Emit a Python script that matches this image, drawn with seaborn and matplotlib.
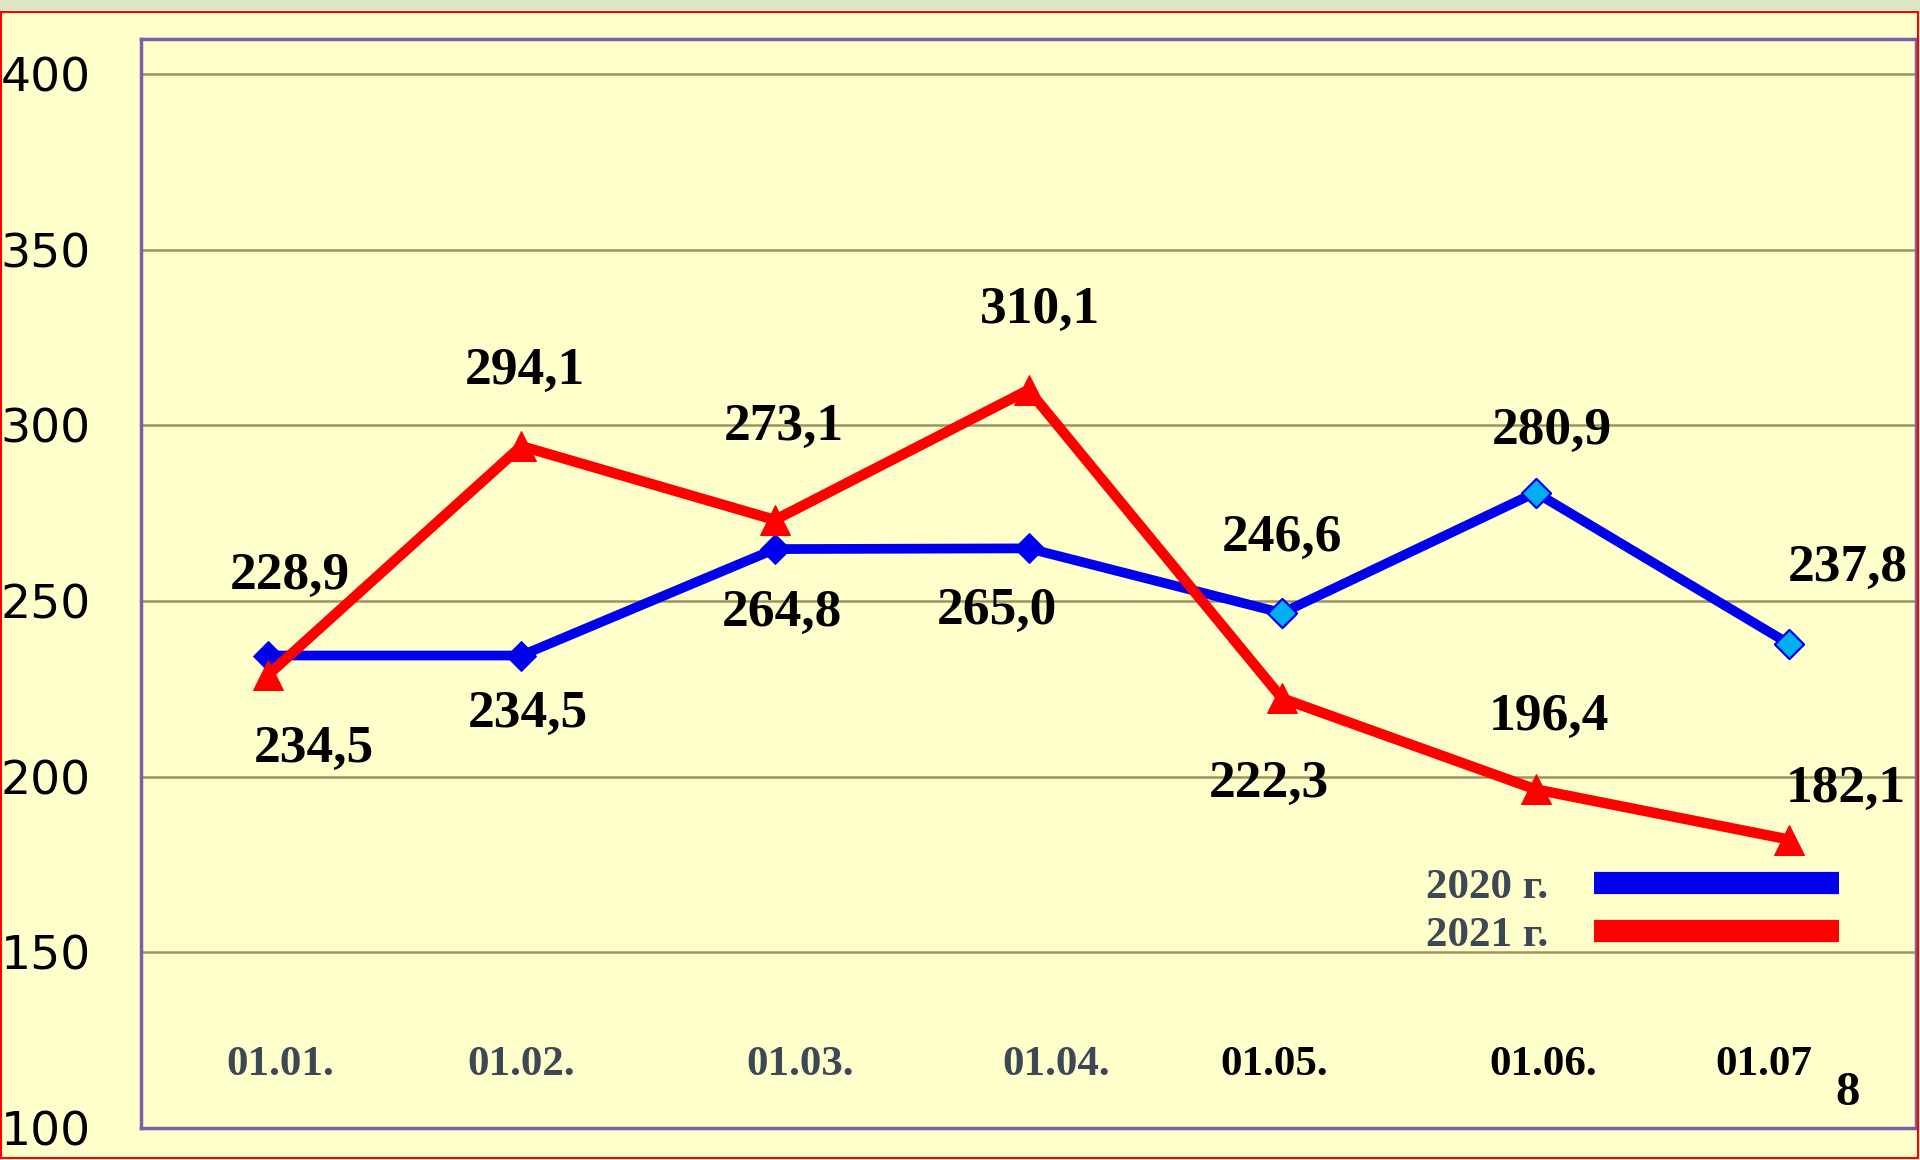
import numpy as np
import pandas as pd
import matplotlib
matplotlib.use("Agg")
import matplotlib.pyplot as plt
import seaborn as sns
from matplotlib.lines import Line2D
from matplotlib.patches import Rectangle

# Data
dates = ["01.01.", "01.02.", "01.03.", "01.04.", "01.05.", "01.06.", "01.07"]
vals_2020 = [234.5, 234.5, 264.8, 265.0, 246.6, 280.9, 237.8]
vals_2021 = [228.9, 294.1, 273.1, 310.1, 222.3, 196.4, 182.1]
y_ticks = [100, 150, 200, 250, 300, 350, 400]

# label offsets (pixels, measured on reference)
px = 1.2245
off_2020 = [(38, -76), (5, -48), (6, -52), (-26, -51), (0, 61), (13, 50), (48, 62)]
off_2021 = [(18, 81), (3, 61), (7, 76), (9, 65), (-11, -70), (11, 59), (46, 41)]
date_shift = [0.05, 0.0, 0.1, 0.11, -0.03, 0.03, -0.1]
date_colors = ["#3d4756"] * 4 + ["#000000"] * 3

BG = "#ffffcc"
sns.set_style("white")
plt.rcParams["font.family"] = ["DejaVu Sans"]

fig = plt.figure(figsize=(19.2, 11.6), dpi=100, facecolor=BG)
ax = fig.add_axes([141 / 1920, 32 / 1160, 1775 / 1920, 1089 / 1160])
ax.set_facecolor(BG)

# frame decorations
fig.patches.append(Rectangle((0, 1150 / 1160), 1, 10 / 1160, transform=fig.transFigure,
                             facecolor="#dce5c4", edgecolor="none", zorder=0))
fig.patches.append(Rectangle((1 / 1920, 2 / 1160), 1917 / 1920, 1146 / 1160, transform=fig.transFigure,
                             facecolor="none", edgecolor="#ff0000", lw=1.5, zorder=5))

df = pd.DataFrame({"x": range(len(dates)), "y2020": vals_2020, "y2021": vals_2021})

sns.lineplot(data=df, x="x", y="y2020", ax=ax, color="#0000ee", lw=7,
             marker="D", markersize=15, markeredgecolor="#0000ee", zorder=3)
sns.scatterplot(data=df.iloc[4:], x="x", y="y2020", ax=ax, marker="D", s=220,
                color="#00b0f0", edgecolor="#0000ee", linewidth=1.5, zorder=4)
sns.lineplot(data=df, x="x", y="y2021", ax=ax, color="#ff0000", lw=7.5,
             marker="^", markersize=22, markeredgecolor="#ff0000", zorder=5)

for i, v in enumerate(vals_2020):
    ax.annotate(f"{v:.1f}".replace(".", ","), (i, v), xytext=(off_2020[i][0] * px, off_2020[i][1] * px),
                textcoords="offset pixels", ha="center", va="center", fontsize=38.5,
                fontweight="bold", family="Liberation Serif", color="black", zorder=6)
for i, v in enumerate(vals_2021):
    ax.annotate(f"{v:.1f}".replace(".", ","), (i, v), xytext=(off_2021[i][0] * px, off_2021[i][1] * px),
                textcoords="offset pixels", ha="center", va="center", fontsize=38.5,
                fontweight="bold", family="Liberation Serif", color="black", zorder=6)

# date labels sit inside the plot area
for i, d in enumerate(dates):
    ax.text(i + date_shift[i], 0.058, d, transform=ax.get_xaxis_transform(), ha="center", va="center",
            fontsize=31, fontweight="bold", family="Liberation Serif", color=date_colors[i])
ax.text(6.23, 0.032, "8", transform=ax.get_xaxis_transform(), ha="center", va="center",
        fontsize=35, fontweight="bold", family="Liberation Serif", color="black")

ax.set_xlim(-0.5, 6.5)
ax.set_ylim(100, 410)
ax.set_yticks(y_ticks)
ax.set_xticks([])
ax.set_xlabel("")
ax.set_ylabel("")
ax.tick_params(axis="y", labelsize=34, pad=36, length=0, colors="black")
ax.grid(axis="y", color="#9a9460", lw=1.8)
ax.set_axisbelow(True)
for s in ax.spines.values():
    s.set_color("#7b5ea7")
    s.set_linewidth(2.5)

handles = [Line2D([0], [0], color="#0000ee", lw=16, solid_capstyle="butt"),
           Line2D([0], [0], color="#ff0000", lw=16, solid_capstyle="butt")]
leg = ax.legend(handles, ["2020 г.", "2021 г."], loc="upper right", bbox_to_anchor=(0.9566, 0.239),
                markerfirst=False, frameon=False, handlelength=5.7, handletextpad=1.05,
                labelspacing=0.2, borderpad=0, borderaxespad=0,
                prop={"family": "Liberation Serif", "weight": "bold", "size": 31})
for t in leg.get_texts():
    t.set_color("#3d4756")

fig.savefig("out.png", dpi=100, facecolor=BG)
